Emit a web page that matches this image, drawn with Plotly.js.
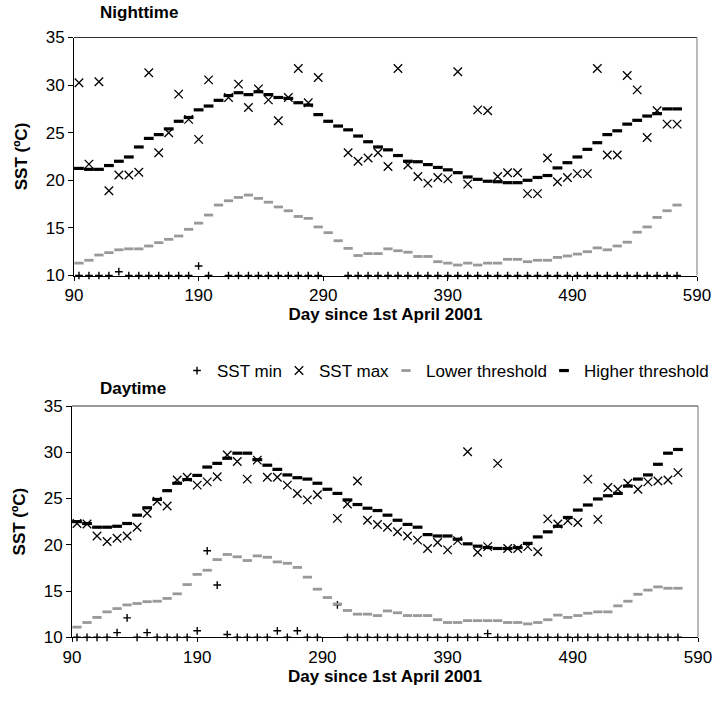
<!DOCTYPE html>
<html>
<head>
<meta charset="utf-8">
<script src="https://cdn.plot.ly/plotly-3.0.1.min.js"></script>
<style>html,body{margin:0;padding:0;background:#fff;}#chart{width:714px;height:702px;}</style>
</head>
<body>
<div id="chart"></div>
<script>
// Day since 1st April 2001 (8-day steps)
const days = [94,102,110,118,126,134,142,150,158,166,174,182,190,198,206,214,222,230,238,246,254,262,270,278,286,294,302,310,318,326,334,342,350,358,366,374,382,390,398,406,414,422,430,438,446,454,462,470,478,486,494,502,510,518,526,534,542,550,558,566,574];
const xTicks = [90,190,290,390,490,590];
const yTicks = [10,15,20,25,30,35];

// Nighttime
const nightMin = [10,10,10,10,10.4,10,10,10,10,10,10,10,11.0,10,null,10,10,10,10,10,10,10,10,10,10,null,null,10,10,10,10,10,10,10,10,10,10,10,10,10,10,10,10,10,10,10,10,10,10,10,10,10,10,10,10,10,10,10,10,10,10];
const nightMax = [30.25,21.7,30.35,18.9,20.55,20.55,20.85,31.3,22.9,25.0,29.05,26.4,24.3,30.55,null,28.7,30.1,27.65,29.6,28.45,26.25,28.7,31.75,28.15,30.8,null,null,22.9,22.0,22.35,22.9,21.45,31.75,21.6,20.4,19.7,20.3,20.15,31.4,19.6,27.4,27.3,20.4,20.8,20.8,18.6,18.6,22.35,19.85,20.3,20.7,20.7,31.75,22.65,22.65,31.0,29.5,24.5,27.3,25.9,25.9];
const nightLower = [11.3,11.6,12.15,12.4,12.7,12.8,12.8,13.1,13.45,13.8,14.15,14.85,15.5,16.35,17.4,17.85,18.2,18.45,18.1,17.7,17.2,16.8,16.2,16.0,15.1,14.5,13.65,12.85,12.1,12.3,12.3,12.8,12.6,12.45,12.0,12.0,11.45,11.3,11.1,11.3,11.1,11.3,11.3,11.7,11.7,11.45,11.6,11.6,11.9,12.05,12.25,12.5,12.9,12.7,13.1,13.5,14.55,15.1,16.1,16.8,17.4];
const nightHigher = [21.25,21.15,21.15,21.55,22.0,22.45,23.5,24.4,24.8,25.4,26.2,26.6,27.4,27.8,28.4,28.9,29.2,29.0,29.3,29.0,28.7,28.6,28.15,27.9,26.9,26.2,25.7,25.3,24.65,24.05,23.5,23.2,22.6,22.0,21.95,21.65,21.35,21.1,20.8,20.35,20.1,19.9,19.85,19.75,19.75,20.0,20.3,20.5,21.3,21.85,22.45,23.25,23.95,24.8,25.2,25.9,26.3,26.75,27.0,27.5,27.5];

// Daytime
const dayMin = [10,10,10,10,10.5,12.1,10,10.5,10,10,10,10,10.7,19.35,15.65,10.3,10,10,10,10,10.7,10,10.7,10,10,null,13.5,10,10,10,10,10,10,10,10,10,10,10,10,10,10,10.4,10,10,10,10,10,10,10,10,10,10,10,10,10,10,10,10,10,10,10];
const dayMax = [22.3,22.25,20.95,20.35,20.7,20.95,21.9,23.4,24.7,24.2,27.0,27.3,26.45,26.8,27.35,29.7,29.0,27.1,29.15,27.3,27.3,26.45,25.55,24.85,25.4,null,22.85,24.4,26.9,22.65,22.2,21.9,21.4,20.95,20.5,19.6,20.25,19.45,20.45,30.05,19.2,19.8,28.8,19.6,19.6,19.8,19.25,22.8,22.25,22.6,22.4,27.1,22.75,26.2,26.0,26.65,26.0,26.8,26.9,27.0,27.8];
const dayLower = [11.1,11.6,12.15,12.75,13.1,13.5,13.65,13.85,13.9,14.2,14.7,15.7,16.8,17.25,18.4,18.95,18.7,18.3,18.8,18.65,18.15,18.0,17.55,16.5,15.2,14.3,13.6,12.9,12.5,12.5,12.35,12.85,12.65,12.35,12.35,12.35,11.9,11.6,11.6,11.8,11.8,11.8,11.8,11.6,11.6,11.45,11.6,11.9,12.4,12.15,12.35,12.6,12.75,12.75,13.4,13.9,14.65,15.1,15.45,15.3,15.3];
const dayHigher = [22.5,22.3,21.9,21.9,22.0,22.3,23.2,24.0,24.9,25.85,26.65,27.05,27.5,28.4,28.8,29.35,29.9,29.9,29.2,28.6,28.15,27.55,27.25,27.1,26.65,26.0,25.55,24.85,24.35,23.95,23.7,23.2,22.65,22.2,21.9,21.1,20.95,20.95,20.6,20.1,19.85,19.7,19.6,19.6,19.7,20.15,20.85,21.4,22.0,22.95,23.75,24.3,24.95,25.3,25.55,26.35,27.1,27.55,28.7,29.9,30.3];

const seriesNames = ['SST min','SST max','Lower threshold','Higher threshold'];
const FONT = 'Arial, "Liberation Sans", sans-serif';
const W = 714, H = 702;
const legendWidths = [57, 62, 113, 0];

function mk(xa, ya, vals, idx, show) {
  const styles = [
    {symbol:'cross-thin-open', size:5.5, line:{color:'#000', width:1.4}, color:'#000'},
    {symbol:'x-thin-open', size:8.5, line:{color:'#000', width:1.3}, color:'#000'},
    {symbol:'line-ew-open', size:6.6, line:{color:'#999999', width:2.8}, color:'#999999'},
    {symbol:'line-ew-open', size:7, line:{color:'#000', width:3.2}, color:'#000'}
  ];
  const t = {
    type:'scatter', mode:'markers', x: days, y: vals, xaxis: xa, yaxis: ya,
    name: seriesNames[idx], showlegend: show, legendgroup: seriesNames[idx],
    marker: styles[idx], cliponaxis: false, hoverinfo:'skip'
  };
  if (legendWidths[idx]) t.legendwidth = legendWidths[idx];
  return t;
}

const traces = [
  mk('x','y',nightMin,0,true), mk('x','y',nightMax,1,true), mk('x','y',nightLower,2,true), mk('x','y',nightHigher,3,true),
  mk('x2','y2',dayMin,0,false), mk('x2','y2',dayMax,1,false), mk('x2','y2',dayLower,2,false), mk('x2','y2',dayHigher,3,false)
];

function xax(d0, d1, anchor) {
  return {
    domain:[d0/W, d1/W], anchor: anchor, range:[90,590], tickmode:'array', tickvals:xTicks,
    ticks:'outside', ticklen:4, tickcolor:'#000', showline:true, linecolor:'#000', linewidth:1,
    showgrid:false, zeroline:false, tickfont:{family:FONT, size:17, color:'#000'},
    title:{text:'Day since 1st April 2001', font:{family:FONT, size:17, color:'#000', weight:'bold'}, standoff:1}
  };
}
function yax(top, bottom, anchor) {
  return {
    domain:[(H-bottom)/H, (H-top)/H], anchor: anchor, range:[10,35], tickmode:'array', tickvals:yTicks,
    ticks:'outside', ticklen:5, tickcolor:'#000', showline:true, linecolor:'#000', linewidth:1,
    showgrid:false, zeroline:false, tickfont:{family:FONT, size:17, color:'#000'},
    title:{text:'SST (ºC)', font:{family:FONT, size:17, color:'#000', weight:'bold'}, standoff:13}
  };
}

const layout = {
  width:W, height:H, margin:{l:0,r:0,t:0,b:0}, paper_bgcolor:'#fff', plot_bgcolor:'#fff',
  font:{family:FONT, color:'#000'},
  xaxis: xax(74, 697, 'y'), yaxis: yax(37.5, 275.5, 'x'),
  xaxis2: xax(72, 698, 'y2'), yaxis2: yax(406, 637.3, 'x2'),
  showlegend:true,
  legend:{orientation:'h', x:1, xanchor:'right', y:(H-371)/H, yanchor:'middle',
    font:{family:FONT, size:17, color:'#000'}, bgcolor:'rgba(0,0,0,0)', itemwidth:30, tracegroupgap:0},
  shapes:[
    {type:'line', xref:'x domain', yref:'y domain', x0:0, x1:1, y0:1, y1:1, line:{color:'#333', width:1}},
    {type:'line', xref:'x domain', yref:'y domain', x0:1, x1:1, y0:0, y1:1, line:{color:'#777', width:1}},
    {type:'line', xref:'x2 domain', yref:'y2 domain', x0:0, x1:1, y0:1, y1:1, line:{color:'#333', width:1}},
    {type:'line', xref:'x2 domain', yref:'y2 domain', x0:1, x1:1, y0:0, y1:1, line:{color:'#777', width:1}}
  ],
  annotations:[
    {text:'<b>Nighttime</b>', xref:'paper', yref:'paper', x:98/W, y:(H-13)/H, xanchor:'left', yanchor:'middle', showarrow:false, font:{family:FONT, size:17, color:'#000'}},
    {text:'<b>Daytime</b>', xref:'paper', yref:'paper', x:98/W, y:(H-388)/H, xanchor:'left', yanchor:'middle', showarrow:false, font:{family:FONT, size:17, color:'#000'}}
  ]
};

Plotly.newPlot('chart', traces, layout, {staticPlot:true, displayModeBar:false});
</script>
</body>
</html>
